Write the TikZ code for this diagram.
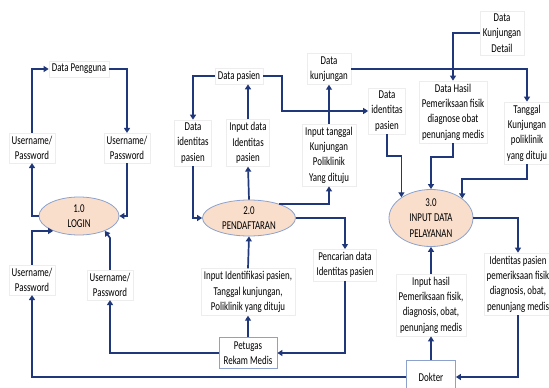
\documentclass[tikz,border=0pt]{standalone}
\usepackage{fontspec}
\setmainfont{Carlito}[FakeStretch=0.74]
\usepackage{tikz}
\usetikzlibrary{arrows.meta,shapes.geometric}

\definecolor{navy}{RGB}{32,56,122}
\definecolor{procfill}{RGB}{249,222,204}
\definecolor{procline}{RGB}{140,162,204}

\begin{document}
\begin{tikzpicture}[x=1pt,y=-1pt,
  every node/.style={font=\fontsize{12}{15.3}\selectfont},
  lbl/.style={fill=white, draw=black!7, align=center, inner sep=3pt},
  proc/.style={ellipse, draw=procline, fill=procfill, line width=0.8pt, align=center,
    minimum width=80pt, minimum height=38pt, inner sep=0pt},
  ent/.style={draw=procline, fill=white, line width=0.8pt, align=center, inner sep=2pt},
  flow/.style={draw=navy, line width=1.7pt, -{Triangle[length=5pt,width=6pt]}}]

 \useasboundingbox (0,0) rectangle (549,388);

 % processes
 \node (login) at (79,216) [proc] {1.0\\LOGIN};
 \node (pend) at (249,218) [proc, minimum width=93pt, minimum height=36pt] {2.0\\PENDAFTARAN};
 \node (layan) at (431,218) [proc, minimum width=84pt, minimum height=57pt] {3.0\\INPUT DATA\\PELAYANAN};

 % entities
 \node (petugas) at (248,353) [ent, minimum width=58pt, minimum height=31pt] {Petugas\\Rekam Medis};
 \node (dokter) at (431,377) [ent, minimum width=49pt, minimum height=34pt] {Dokter};

 % data labels
 \node (dp) at (79,69) [lbl] {Data Pengguna};
 \node (up1) at (32,148) [lbl] {Username/\\Password};
 \node (up2) at (127,148) [lbl] {Username/\\Password};
 \node (up3) at (32,280) [lbl] {Username/\\Password};
 \node (up4) at (110,285) [lbl] {Username/\\Password};

 \node (dpas) at (239,76) [lbl] {Data pasien};
 \node (did1) at (193,143) [lbl] {Data\\identitas\\pasien};
 \node (inid) at (248,143) [lbl] {Input data\\Identitas\\pasien};
 \node (intgl) at (329,155) [lbl] {Input tanggal\\Kunjungan\\Poliklinik\\Yang dituju};
 \node (dkun) at (329,69) [lbl] {Data\\kunjungan};
 \node (dkd) at (502,33) [lbl] {Data\\Kunjungan\\Detail};
 \node (did2) at (387,111) [lbl] {Data\\identitas\\pasien};
 \node (dhasil) at (453,112) [lbl] {Data Hasil\\Pemeriksaan fisik\\diagnose obat\\penunjang medis};
 \node (tgl) at (527,133) [lbl] {Tanggal\\Kunjungan\\poliklinik\\yang dituju};

 \node (pencari) at (345,265) [lbl] {Pencarian data\\Identitas pasien};
 \node (inputid) at (248,292) [lbl] {Input Identifikasi pasien,\\Tanggal kunjungan,\\Poliklinik yang dituju};
 \node (hasil) at (431,305) [lbl] {Input hasil\\Pemeriksaan fisik,\\diagnosis, obat,\\penunjang medis};
 \node (identps) at (518,284) [lbl] {Identitas pasien\\pemeriksaan fisik\\diagnosis, obat,\\penunjang medis};

 % login flows
 \draw [flow] (up1.north) |- (dp.west);
 \draw [flow] (dp.east) -| (up2.north);
 \draw [flow] (login.west) -| (up1.south);
 \draw [flow] (up2.south) |- (login.east);
 \draw [flow] (up3.north) |- (login.-150);
 \draw [flow] (up4.north) -- ++(0,-32) -- (login.-30);
 \draw [flow] (petugas.west) -| (up4.south);
 \draw [flow] (dokter.west) -| (up3.south);

 % pendaftaran flows
 \draw [flow] (dpas.west) -| (did1.north);
 \draw [flow] (did1.south) |- (pend.west);
 \draw [flow] (pend.north) -- (inid.south);
 \draw [flow] (inid.north) -- (inid.north |- dpas.south);
 \draw [flow] (dpas.east) -- ++(19,0) |- (did2.west);
 \draw [flow] (pend.25) -| (intgl.south);
 \draw [flow] (intgl.north) -- (dkun.south);
 \draw [flow] (pend.east) -| (pencari.north);
 \draw [flow] (pencari.south) |- (petugas.east);
 \draw [flow] (petugas.north) -- (inputid.south);
 \draw [flow] (inputid.north) -- (pend.south);

 % pelayanan flows
 \draw [flow] (dkun.east) -| (tgl.north);
 \draw [flow] (dkd.west) -| (dhasil.north);
 \draw [flow] (did2.south) -- ++(0,22) -| (layan.145);
 \draw [flow] (dhasil.south) -- ++(0,14) -| (layan.north);
 \draw [flow] (tgl.south) -- ++(0,15) -| (layan.32);
 \draw [flow] (layan.east) -| (identps.north);
 \draw [flow] (identps.south) |- (dokter.east);
 \draw [flow] (dokter.north) -- (hasil.south);
 \draw [flow] (hasil.north) -- (layan.south);
\end{tikzpicture}
\end{document}
